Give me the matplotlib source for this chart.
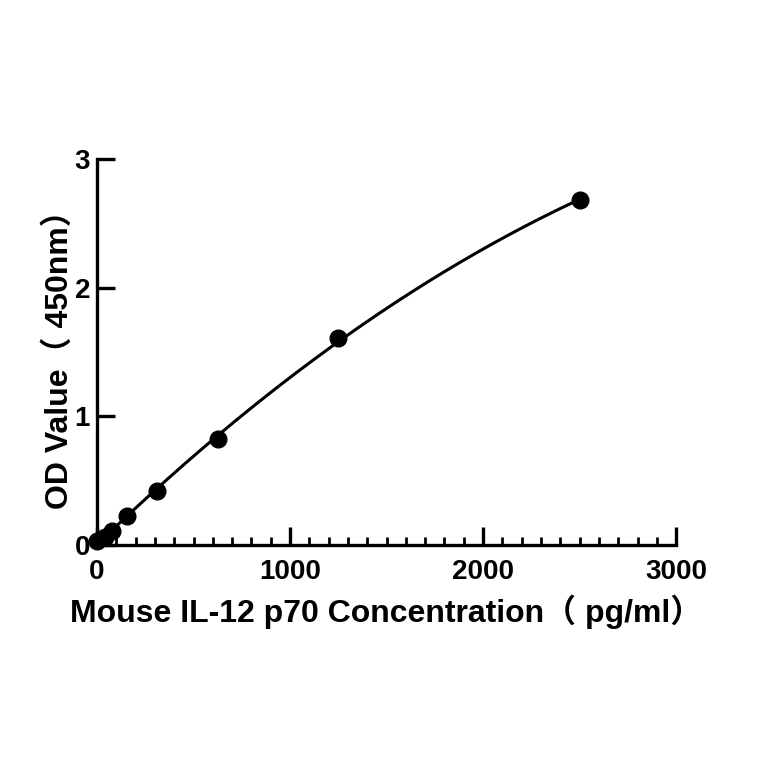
import numpy as np
import matplotlib
matplotlib.use("Agg")
from matplotlib import pyplot as plt
from matplotlib.ticker import MultipleLocator

conc = [0, 39, 78, 156, 312.5, 625, 1250, 2500]
od = [0.03, 0.06, 0.11, 0.22, 0.42, 0.82, 1.61, 2.68]
x_ticks = [0, 1000, 2000, 3000]
y_ticks = [0, 1, 2, 3]
x_label = "Mouse IL-12 p70 Concentration（ pg/ml）"
y_label = "OD Value（ 450nm）"

plt.rcParams['font.family'] = ['Liberation Sans', 'Noto Sans CJK SC', 'DejaVu Sans']
plt.rcParams['font.weight'] = 'bold'

fig = plt.figure(figsize=(7.64, 7.64), dpi=100)
ax = fig.add_axes([0.127, 0.287, 0.758, 0.505])

# fitted standard curve (quadratic through the standards)
coef = np.polyfit(conc, od, 2)
xs = np.linspace(0, max(conc), 300)
ax.plot(xs, np.polyval(coef, xs), color='black', lw=2.2, zorder=2)
ax.plot(conc, od, 'o', color='black', ms=12, zorder=3, clip_on=False)

ax.set_xlim(0, 3000)
ax.set_ylim(0, 3)
ax.set_xticks(x_ticks)
ax.set_yticks(y_ticks)
ax.xaxis.set_minor_locator(MultipleLocator(100))
for s in ['top', 'right']:
    ax.spines[s].set_visible(False)
for s in ['left', 'bottom']:
    ax.spines[s].set_linewidth(2.4)
ax.tick_params(which='major', direction='in', length=13, width=2.4, labelsize=20)
ax.tick_params(axis='x', which='major', pad=10)
ax.tick_params(axis='y', which='major', pad=5)
ax.tick_params(which='minor', direction='in', length=6, width=2.0)
for lab in ax.get_xticklabels() + ax.get_yticklabels():
    lab.set_fontweight('bold')

ax.set_xlabel(x_label, fontsize=23, fontweight='bold', labelpad=7)
ax.set_ylabel(y_label, fontsize=23, fontweight='bold', labelpad=0)

fig.savefig("out.png", dpi=100)
